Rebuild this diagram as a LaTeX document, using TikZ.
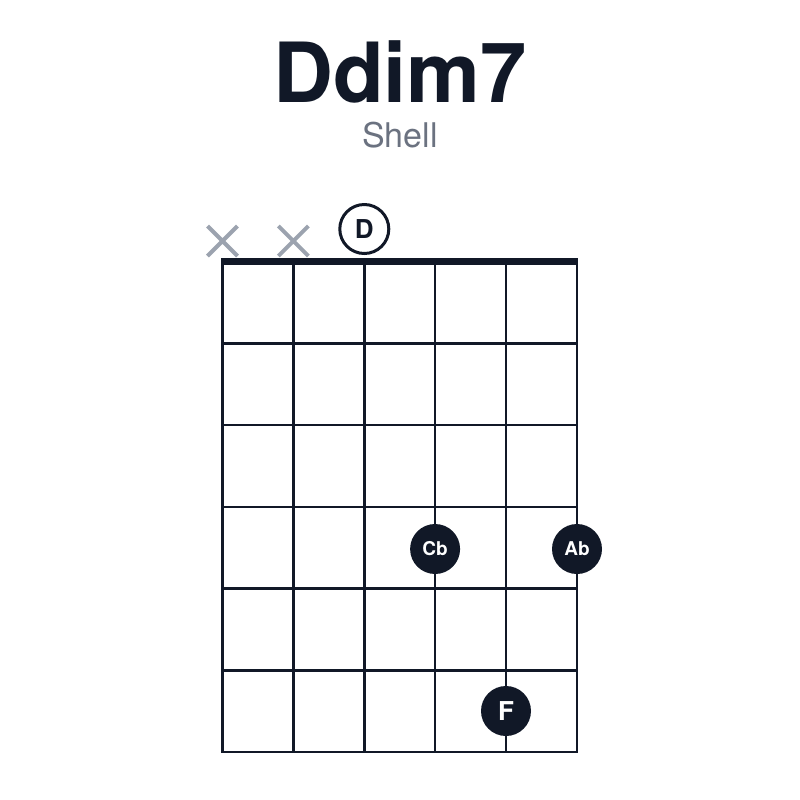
\documentclass[tikz,border=0pt]{standalone}
\usepackage{fontspec}
\setmainfont{TeX Gyre Heros}
\usetikzlibrary{shapes.misc}

\definecolor{ink}{HTML}{111827}
\definecolor{mutegray}{HTML}{9CA3AF}
\definecolor{subgray}{HTML}{6B7280}

\tikzset{
    fretline/.style = {draw=ink, line width=1.25pt, line cap=rect},
    nutline/.style = {draw=ink, line width=3.5pt},
    notedot/.style = {circle, fill=ink, text=white, minimum size=25pt, inner sep=0pt},
    opennote/.style = {circle, draw=ink, fill=white, line width=1.5pt, text=ink, minimum size=24.5pt, inner sep=0pt},
    mutemark/.style = {cross out, draw=mutegray, line width=2pt, minimum size=13pt, inner sep=0pt}
}

\begin{document}
\begin{tikzpicture}[x=0.5pt, y=-0.5pt]
            \useasboundingbox (0,0) rectangle (800,800);
            \node[anchor=base, text=ink, font=\bfseries\fontsize{41.5}{48}\selectfont] (chord) at (400,102) {Ddim7};
            \node[anchor=base, text=subgray, font=\fontsize{17}{20}\selectfont] (voicing) at (400,147.5) {Shell};
            \foreach \s in {0,...,5} \draw[fretline] (222.5+70.9*\s,261.5) -- (222.5+70.9*\s,752);
            \foreach \f in {1,...,6} \draw[fretline] (222.5,261.5+81.75*\f) -- (577,261.5+81.75*\f);
            \draw[nutline] (221.25,261.5) -- (578.25,261.5);
            \node[mutemark] (mutelow) at (222.5,241) {};
            \node[mutemark] (mutea) at (293.4,241) {};
            \node[opennote, font=\bfseries\fontsize{13}{13}\selectfont] (root) at (364.3,229) {D};
            \node[notedot, font=\bfseries\fontsize{9.5}{10}\selectfont] (dimseventh) at (435.1,549) {Cb};
            \node[notedot, font=\bfseries\fontsize{9.5}{10}\selectfont] (dimfifth) at (577,549) {Ab};
            \node[notedot, font=\bfseries\fontsize{13}{13}\selectfont] (minthird) at (506,711) {F};
        \end{tikzpicture}
\end{document}
